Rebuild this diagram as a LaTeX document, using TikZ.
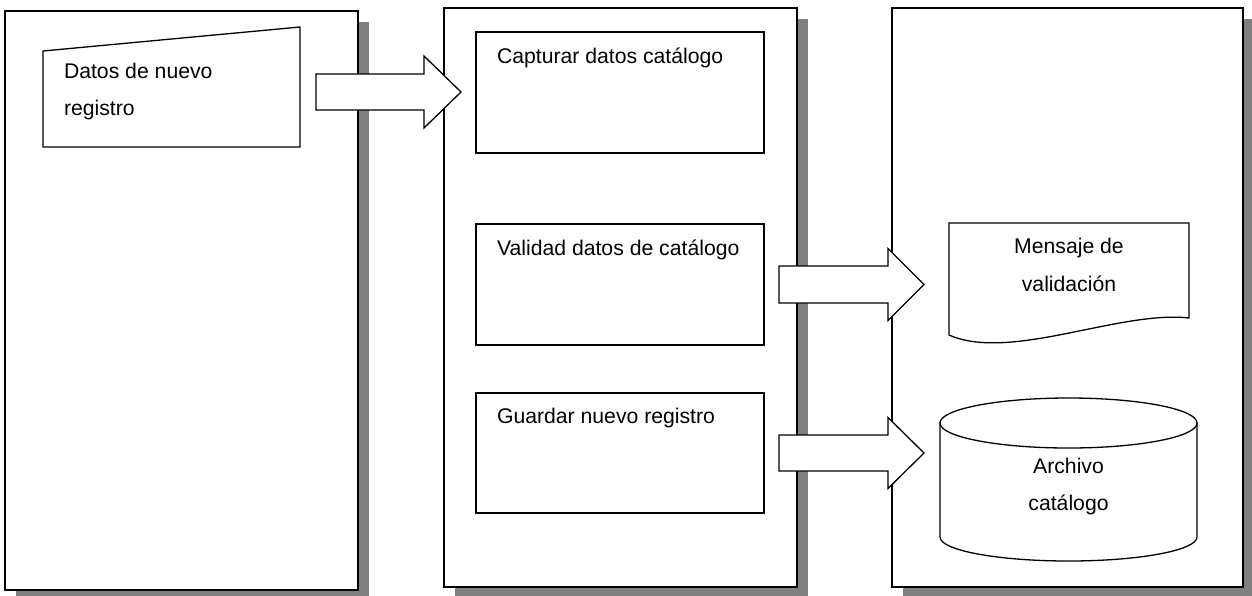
\documentclass[tikz,border=0pt]{standalone}
\usepackage{fontspec}
\setmainfont{Liberation Sans}
\usetikzlibrary{shadows}
\definecolor{shadowgray}{HTML}{808080}
\begin{document}
\begin{tikzpicture}[x=1pt,y=-1pt,
  panel/.style={draw, line width=1.6pt, fill=white, rectangle, inner sep=0pt, outer sep=0pt,
    drop shadow={shadow xshift=10.5pt, shadow yshift=-10.5pt, fill=shadowgray, opacity=1}},
  procbox/.style={draw, line width=1.3pt, fill=white, rectangle, inner sep=0pt, outer sep=0pt,
    minimum width=288pt},
  shapeline/.style={draw, line width=1.3pt, fill=white, line join=miter},
  blockarrow/.style={draw, line width=1.3pt, fill=white, line join=miter},
  txt/.style={font=\fontsize{21.2}{37}\selectfont, inner sep=0pt, outer sep=0pt}]
\useasboundingbox (0,0) rectangle (1252,595);

% panels
\node[panel, minimum width=353pt, minimum height=579pt] (p1) at (181.5,300.5) {};
\node[panel, minimum width=353pt, minimum height=579pt] (p2) at (620.5,297.5) {};
\node[panel, minimum width=351pt, minimum height=579pt] (p3) at (1067.5,297.5) {};

% manual input
\coordinate (mi1) at (43,51);
\coordinate (mi2) at (300,27);
\coordinate (mi3) at (300,147);
\coordinate (mi4) at (43,147);
\path[shapeline] (mi1) -- (mi2) -- (mi3) -- (mi4) -- cycle;
\node[txt, anchor=base west] (tmi1) at (64,78) {Datos de nuevo};
\node[txt, anchor=base west] (tmi2) at (64,115) {registro};

% process boxes
\node[procbox, minimum height=121pt] (b1) at (620,92.5) {};
\node[procbox, minimum height=121pt] (b2) at (620,284.5) {};
\node[procbox, minimum height=120pt] (b3) at (620,453) {};
\node[txt, anchor=base west] (tb1) at (497,63) {Capturar datos catálogo};
\node[txt, anchor=base west] (tb2) at (497,255) {Validad datos de catálogo};
\node[txt, anchor=base west] (tb3) at (497,423) {Guardar nuevo registro};

% document shape
\coordinate (d1) at (949,223);
\coordinate (d2) at (1189,223);
\coordinate (d3) at (1189,318);
\coordinate (d4) at (949,335);
\path[shapeline] (d1) -- (d2) -- (d3) .. controls (1120,310) and (1010,362) .. (d4) -- cycle;
\node[txt, anchor=base] (td1) at (1069,253) {Mensaje de};
\node[txt, anchor=base] (td2) at (1069,291) {validación};

% cylinder
\coordinate (c1) at (940,423);
\coordinate (c2) at (940,537);
\coordinate (c3) at (1197,537);
\coordinate (c4) at (1197,423);
\coordinate (ctop) at (1068.5,423);
\path[shapeline] (c1) -- (c2) arc[start angle=180, end angle=360, x radius=128.5pt, y radius=24pt] -- (c4) -- cycle;
\path[shapeline] (ctop) ellipse[x radius=128.5pt, y radius=25pt];
\node[txt, anchor=base] (tc1) at (1068.5,473) {Archivo};
\node[txt, anchor=base] (tc2) at (1068.5,510) {catálogo};

% block arrows (tail centre -> tip)
\coordinate (a1s) at (316,92);
\coordinate (a2s) at (779,284.5);
\coordinate (a3s) at (779,453);
\path[blockarrow] (a1s) -- ++(0,-18) -- ++(108,0) -- ++(0,-18) -- ++(37,36) -- ++(-37,36) -- ++(0,-18) -- ++(-108,0) -- cycle;
\path[blockarrow] (a2s) -- ++(0,-18.5) -- ++(109,0) -- ++(0,-17.5) -- ++(36,36) -- ++(-36,36) -- ++(0,-17.5) -- ++(-109,0) -- cycle;
\path[blockarrow] (a3s) -- ++(0,-18) -- ++(109,0) -- ++(0,-17.5) -- ++(36,35.5) -- ++(-36,35.5) -- ++(0,-17.5) -- ++(-109,0) -- cycle;
\end{tikzpicture}
\end{document}
